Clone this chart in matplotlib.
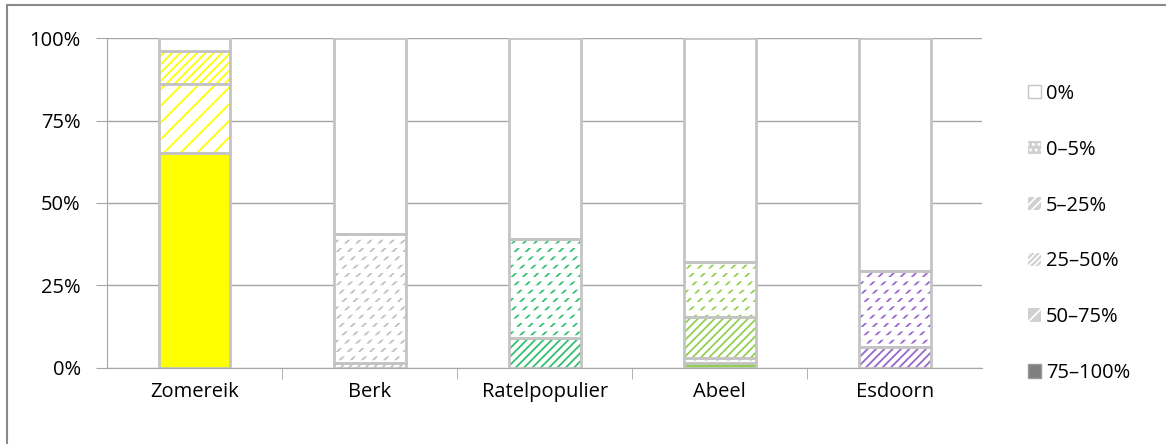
import numpy as np
import matplotlib as mpl
import matplotlib.pyplot as plt
from matplotlib.patches import Patch, Rectangle

plt.rcParams['font.family'] = ['Open Sans', 'DejaVu Sans']
plt.rcParams['hatch.linewidth'] = 1.3

# Данные: доля деревьев по классам (снизу вверх), %
trees = ['Zomereik', 'Berk', 'Ratelpopulier', 'Abeel', 'Esdoorn']
classes = ['75-100%', '50-75%', '25-50%', '5-25%', '0-5%', '0%']
legend_labels = ['0%', '0\u20135%', '5\u201325%', '25\u201350%', '50\u201375%', '75\u2013100%']
values = {
    '75-100%': [65.0, 0.0, 0.0, 1.5, 0.0],
    '50-75%':  [21.0, 0.0, 0.0, 1.5, 0.0],
    '25-50%':  [10.0, 0.0, 0.0, 0.0, 0.0],
    '5-25%':   [0.0, 1.5, 9.0, 12.5, 6.5],
    '0-5%':    [0.0, 39.0, 30.0, 16.5, 23.0],
    '0%':      [4.0, 59.5, 61.0, 68.0, 70.5],
}
tree_colors = ['#ffff00', '#c0c0c0', '#33c070', '#92d050', '#9966cc']

# Штриховка по классам
hatches = {'75-100%': None, '50-75%': '//', '25-50%': '////',
           '5-25%': '////', '0-5%': '///', '0%': None}

edge = '#c4c4c4'
grid_c = '#a6a6a6'
fs = 14.5

fig = plt.figure(figsize=(11.66, 4.44), dpi=100)
ax = fig.add_axes([0.0918, 0.1712, 0.7508, 0.7432])

x = np.arange(len(trees))
width = 0.41
bottom = np.zeros(len(trees))
for cls in classes:
    vals = np.array(values[cls])
    for i in range(len(trees)):
        if vals[i] <= 0:
            continue
        col = tree_colors[i]
        if cls == '75-100%':
            ax.bar(x[i], vals[i], width, bottom=bottom[i], color=col, linewidth=0, zorder=3)
        elif cls == '0%':
            ax.bar(x[i], vals[i], width, bottom=bottom[i], color='white', linewidth=0, zorder=3)
        else:
            dashed = cls == '0-5%' or (i == 3 and cls == '50-75%')
            hcol = '#00a050' if (i == 3 and cls == '50-75%') else col
            h = '///' if dashed else hatches[cls]
            ax.bar(x[i], vals[i], width, bottom=bottom[i], color='white',
                   edgecolor=hcol, hatch=h, linewidth=0, zorder=3)
            if dashed:
                # белые горизонтальные полосы -> ряды коротких штрихов
                with mpl.rc_context({'hatch.linewidth': 3.2}):
                    b = ax.bar(x[i], vals[i], width, bottom=bottom[i], fill=False,
                               edgecolor='white', hatch='--', linewidth=0, zorder=3.5)
                    for p in b:
                        if hasattr(p, 'set_hatch_linewidth'):
                            p.set_hatch_linewidth(3.2)
        # контур сегмента
        ax.bar(x[i], vals[i], width, bottom=bottom[i], fill=False,
               edgecolor=edge, linewidth=2, zorder=4)
    bottom += vals

ax.set_xlim(-0.5, len(trees) - 0.5)
ax.set_ylim(0, 100)
ax.set_yticks([0, 25, 50, 75, 100])
ax.set_yticklabels(['0%', '25%', '50%', '75%', '100%'], fontsize=fs)
ax.yaxis.grid(True, color=grid_c, linewidth=1)
ax.set_axisbelow(True)

ax.set_xticks(x)
ax.set_xticklabels(trees, fontsize=fs)
ax.set_xticks(np.arange(0.5, len(trees) - 0.5, 1.0), minor=True)
ax.tick_params(axis='x', which='major', length=0, pad=10)
ax.tick_params(axis='x', which='minor', length=8, color=grid_c, direction='out')
ax.tick_params(axis='y', length=8, color=grid_c, pad=11)

for s in ['top', 'right']:
    ax.spines[s].set_visible(False)
ax.spines['left'].set_color(grid_c)
ax.spines['bottom'].set_color(grid_c)

# Легенда
handles = []
for lab in legend_labels:
    if lab == '0%':
        h = Patch(facecolor='white', edgecolor=edge, linewidth=1)
    elif lab == '75\u2013100%':
        h = Patch(facecolor='#7f7f7f', edgecolor='#9a9a9a', linewidth=1)
    else:
        cls = {'0\u20135%': '0-5%', '5\u201325%': '5-25%',
               '25\u201350%': '25-50%', '50\u201375%': '50-75%'}[lab]
        hh = {'0-5%': '...', '5-25%': '////', '25-50%': '//////', '50-75%': '//'}[cls]
        h = Patch(facecolor='#d0d0d0', edgecolor='white', hatch=hh, linewidth=0)
    handles.append(h)
fig.legend(handles, legend_labels, loc='upper left', bbox_to_anchor=(0.866, 0.852),
           frameon=False, fontsize=fs, labelspacing=1.78, handlelength=0.65,
           handleheight=0.65, handletextpad=0.25)

# Рамка
fig.add_artist(Rectangle((7 / 1166, -0.1), 1.2, 1.1 - 5 / 444, transform=fig.transFigure,
                         fill=False, edgecolor='#8a8a8a', linewidth=1.5))

fig.savefig('out.png', dpi=100)
